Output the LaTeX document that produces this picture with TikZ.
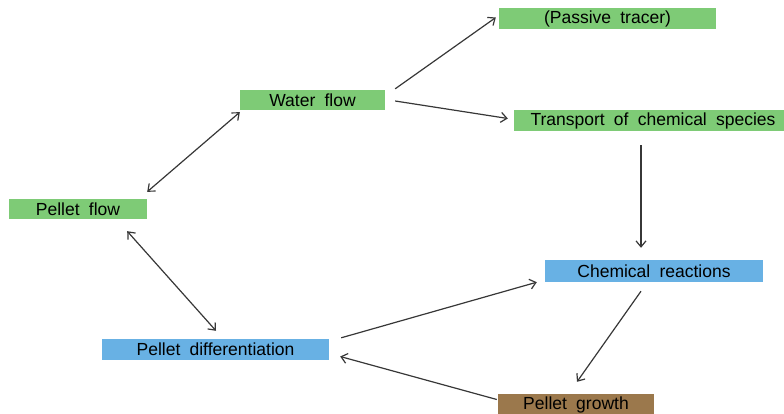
\documentclass[tikz,border=0pt]{standalone}
\usepackage{fontspec}
\setmainfont[WordSpace=1.9]{Liberation Sans}
\usetikzlibrary{arrows.meta}
\definecolor{boxgreen}{RGB}{126,203,118}
\definecolor{boxblue}{RGB}{104,177,228}
\definecolor{boxbrown}{RGB}{155,120,76}
\definecolor{arrowgray}{RGB}{55,55,55}
\begin{document}
\begin{tikzpicture}[x=1pt,y=-1pt,
  box/.style={rectangle,inner sep=0pt,font=\fontsize{17.5}{20}\selectfont,text=black},
  gbox/.style={box,fill=boxgreen},
  bbox/.style={box,fill=boxblue},
  nbox/.style={box,fill=boxbrown},
  conn/.style={draw=arrowgray,line width=1.2pt,-{Straight Barb[length=6pt,width=10pt,line width=1.2pt]}},
  biconn/.style={draw=arrowgray,line width=1.2pt,{Straight Barb[length=6pt,width=10pt,line width=1.2pt]}-{Straight Barb[length=6pt,width=10pt,line width=1.2pt]}}]
\useasboundingbox (0,0) rectangle (784,414);
\node[gbox,minimum width=217pt,minimum height=21pt] (tracer) at (607.5,18.5) {(Passive tracer)};
\node[gbox,minimum width=278pt,minimum height=21pt] (transport) at (653,120.5) {Transport of chemical species};
\node[gbox,minimum width=145pt,minimum height=20pt] (water) at (312.5,100) {Water flow};
\node[gbox,minimum width=138pt,minimum height=20pt] (pflow) at (78,209) {Pellet flow};
\node[bbox,minimum width=227pt,minimum height=21pt] (pdiff) at (215.5,349.5) {Pellet differentiation};
\node[bbox,minimum width=218pt,minimum height=22pt] (chem) at (654,271) {Chemical reactions};
\node[nbox,minimum width=156pt,minimum height=21pt] (growth) at (576,404.5) {Pellet growth};

\draw[biconn] ([shift={(0,2)}]water.south west) -- ([shift={(0,-7)}]pflow.north east);
\draw[conn] ([shift={(10,-1)}]water.north east) -- ([shift={(-3,-1)}]tracer.west);
\draw[conn] ([shift={(10,1)}]water.east) -- ([shift={(-6,-2)}]transport.west);
\draw[conn] ([shift={(-12,14)}]transport.south) -- ([shift={(-13,-12)}]chem.north);
\draw[biconn] ([shift={(-20,12)}]pflow.south east) -- ([shift={(0.5,-8)}]pdiff.north);
\draw[conn] ([shift={(12,-1)}]pdiff.north east) -- ([shift={(-8,0)}]chem.south west);
\draw[conn] ([shift={(-13,9)}]chem.south) -- ([shift={(1,-12)}]growth.north);
\draw[conn] ([shift={(-1,-5)}]growth.west) -- ([shift={(11,7)}]pdiff.east);
\end{tikzpicture}
\end{document}
